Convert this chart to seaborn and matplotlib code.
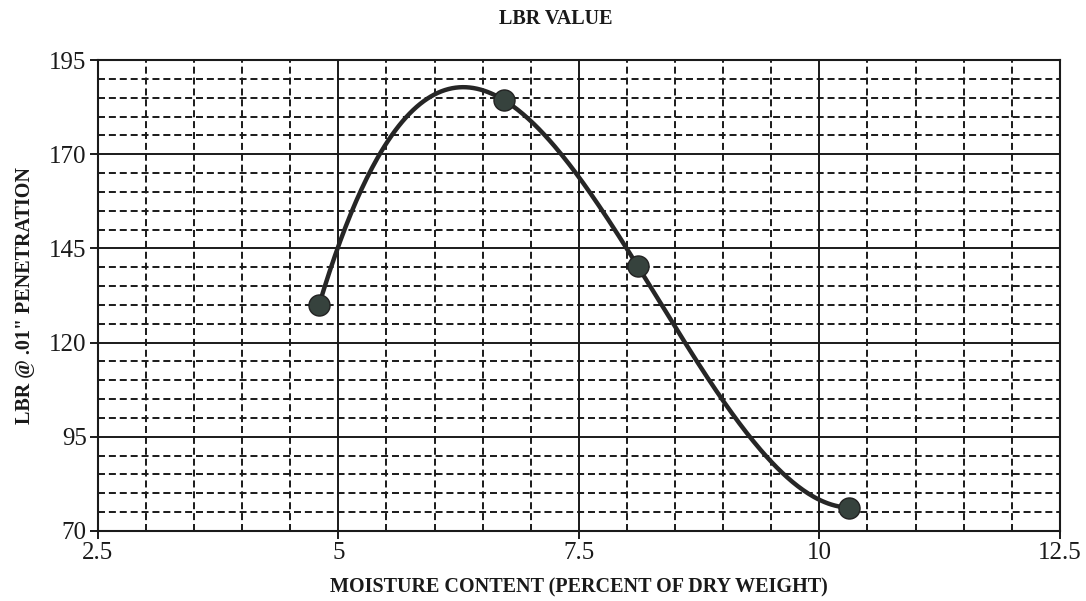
import numpy as np
import pandas as pd
import seaborn as sns
import matplotlib.pyplot as plt
from matplotlib.ticker import MultipleLocator

# values
moisture = [4.8, 6.72, 8.11, 10.31]
lbr = [130.0, 184.4, 140.4, 76.2]
x_ticks = [2.5, 5, 7.5, 10, 12.5]
y_ticks = [70, 95, 120, 145, 170, 195]

sns.set_theme(style="white")
plt.rcParams['font.family'] = ['Liberation Serif', 'DejaVu Serif']

df = pd.DataFrame({'moisture': moisture, 'lbr': lbr})

# smooth curve through the four tests (cubic through the points)
coef = np.polyfit(df['moisture'], df['lbr'], 3)
xs = np.linspace(df['moisture'].min(), df['moisture'].max(), 300)
curve = pd.DataFrame({'moisture': xs, 'lbr': np.polyval(coef, xs)})

fig, ax = plt.subplots(figsize=(10.86, 6.01), dpi=100)
fig.subplots_adjust(left=0.090, right=0.976, bottom=0.1165, top=0.900)

sns.lineplot(data=curve, x='moisture', y='lbr', ax=ax, color='#262626',
             linewidth=3.2, zorder=3)
sns.scatterplot(data=df, x='moisture', y='lbr', ax=ax, color='#36423d',
                s=230, edgecolor='#222222', linewidth=1, zorder=4)

ax.set_xlim(2.5, 12.5)
ax.set_ylim(70, 195)
ax.set_xticks(x_ticks)
ax.set_xticklabels(['2.5', '5', '7.5', '10', '12.5'])
ax.set_yticks(y_ticks)
ax.xaxis.set_minor_locator(MultipleLocator(0.5))
ax.yaxis.set_minor_locator(MultipleLocator(5))

ax.grid(which='major', color='#1a1a1a', linewidth=1.4, linestyle='-')
ax.grid(which='minor', color='#1a1a1a', linewidth=1.4, linestyle=(0, (3.6, 2.0)))
ax.set_axisbelow(True)

for sp in ax.spines.values():
    sp.set_color('#1a1a1a')
    sp.set_linewidth(1.5)

ax.tick_params(axis='both', which='major', direction='out', length=6, width=1.4,
               color='#1a1a1a', labelsize=18, labelcolor='#1a1a1a', pad=2,
               bottom=True, left=True)
ax.tick_params(axis='both', which='minor', length=0)

ax.set_title('LBR VALUE', fontsize=14.5, fontweight='bold', pad=26,
             color='#1a1a1a', x=0.476)
ax.set_xlabel('MOISTURE CONTENT (PERCENT OF DRY WEIGHT)', fontsize=14.5,
              fontweight='bold', labelpad=10, color='#1a1a1a')
ax.set_ylabel('LBR @ .01" PENETRATION', fontsize=14.5, fontweight='bold',
              labelpad=10, color='#1a1a1a')

fig.savefig('out.png', dpi=100, facecolor='white')
